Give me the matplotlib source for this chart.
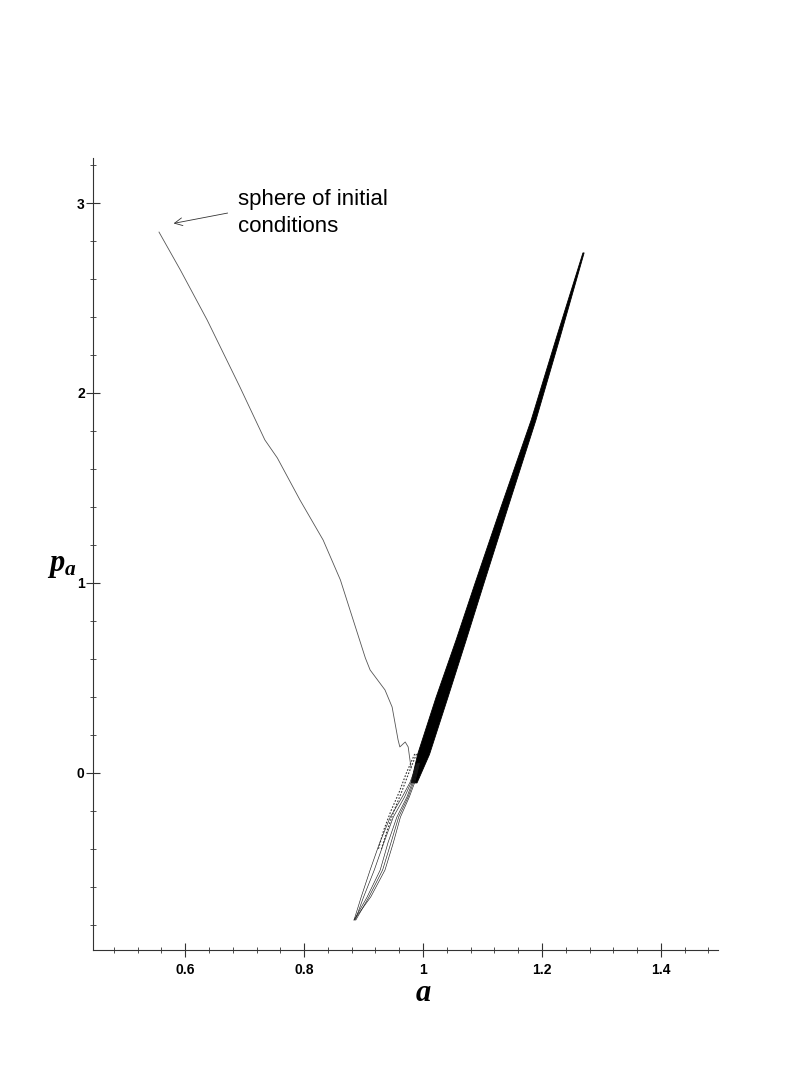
import matplotlib
matplotlib.use('Agg')
import matplotlib.pyplot as plt
import matplotlib.ticker as ticker

plt.rcParams['font.family'] = ['Liberation Sans', 'DejaVu Sans']
plt.rcParams['mathtext.fontset'] = 'custom'
plt.rcParams['mathtext.it'] = 'Liberation Serif:italic:bold'
plt.rcParams['mathtext.rm'] = 'Liberation Serif:bold'

# thin trajectory coming from the sphere of initial conditions
curve_a = [0.556, 0.592, 0.637, 0.692, 0.734, 0.755, 0.793, 0.832, 0.861,
           0.903, 0.911, 0.936, 0.948, 0.958, 0.961, 0.970, 0.975, 0.978, 0.980]
curve_p = [2.847, 2.647, 2.384, 2.032, 1.753, 1.658, 1.437, 1.226, 1.016,
           0.605, 0.542, 0.437, 0.347, 0.174, 0.137, 0.163, 0.137, 0.068, 0.026]

# dense band (left / right edge)
band_p = [-0.05, 0.10, 0.40, 0.70, 1.00, 1.40, 1.86, 2.30, 2.74]
band_left = [0.979, 0.990, 1.021, 1.0545, 1.0865, 1.130, 1.181, 1.224, 1.268]
band_right = [0.989, 1.010, 1.041, 1.0715, 1.1015, 1.142, 1.189, 1.230, 1.270]

# thin strands below the band
tail_p = [0.05, -0.05, -0.126, -0.232, -0.368, -0.511, -0.653, -0.774]
strands = [
    [0.990, 0.978, 0.965, 0.945, 0.927, 0.911, 0.896, 0.884],
    [0.994, 0.986, 0.977, 0.962, 0.950, 0.936, 0.912, 0.884],
    [0.991, 0.980, 0.969, 0.950, 0.934, 0.918, 0.900, 0.886],
    [0.993, 0.984, 0.975, 0.959, 0.946, 0.932, 0.909, 0.887],
    [0.992, 0.982, 0.973, 0.956, 0.941, 0.928, 0.906, 0.884],
]
# speckled strands at the top of the tail
speckle_p = [0.10, 0.00, -0.10, -0.20, -0.30, -0.40]
speckles = [
    [0.986, 0.972, 0.960, 0.946, 0.934, 0.925],
    [0.989, 0.976, 0.964, 0.951, 0.940, 0.930],
]

x_major = [0.6, 0.8, 1.0, 1.2, 1.4]
x_labels = ['0.6', '0.8', '1', '1.2', '1.4']
y_major = [0, 1, 2, 3]
y_labels = ['0', '1', '2', '3']

fig = plt.figure(figsize=(8.09, 10.90), dpi=100)
ax = fig.add_axes([93 / 809, 140 / 1090, 625 / 809, 792 / 1090])

ax.plot(curve_a, curve_p, color='#555555', linewidth=0.6)
ax.fill_betweenx(band_p, band_left, band_right, color='black', linewidth=0.6,
                 edgecolor='black')
for s in strands:
    ax.plot(s, tail_p, color='#222222', linewidth=0.45)
for s in speckles:
    ax.plot(s, speckle_p, color='#333333', linewidth=0.8, linestyle=(0, (1.5, 1.5)))

ax.annotate('', xy=(0.576, 2.89), xytext=(0.676, 2.95),
            arrowprops=dict(arrowstyle='->', lw=0.6, color='#333333',
                            mutation_scale=14))
ax.text(0.689, 3.075, 'sphere of initial\nconditions', fontsize=16,
        ha='left', va='top', linespacing=1.4)

ax.set_xlim(0.445, 1.496)
ax.set_ylim(-0.932, 3.237)

for side in ('top', 'right'):
    ax.spines[side].set_visible(False)
for side in ('left', 'bottom'):
    ax.spines[side].set_color('#333333')
    ax.spines[side].set_linewidth(0.8)

ax.set_xticks(x_major)
ax.set_xticklabels(x_labels)
ax.set_yticks(y_major)
ax.set_yticklabels(y_labels)
ax.xaxis.set_minor_locator(ticker.MultipleLocator(0.04))
ax.yaxis.set_minor_locator(ticker.MultipleLocator(0.2))
ax.tick_params(which='major', direction='inout', length=10, width=0.8,
               labelsize=10, color='#333333')
ax.tick_params(which='minor', direction='inout', length=4, width=0.6,
               color='#333333')
ax.tick_params(axis='x', which='major', pad=4)
ax.tick_params(axis='y', which='major', pad=1)
for lab in ax.get_xticklabels() + ax.get_yticklabels():
    lab.set_fontweight('bold')

fig.text(0.523, 0.089, '$a$', fontsize=22, ha='center', va='center')
fig.text(0.077, 0.482, '$p_a$', fontsize=22, ha='center', va='center')

fig.savefig('out.png', dpi=100)
